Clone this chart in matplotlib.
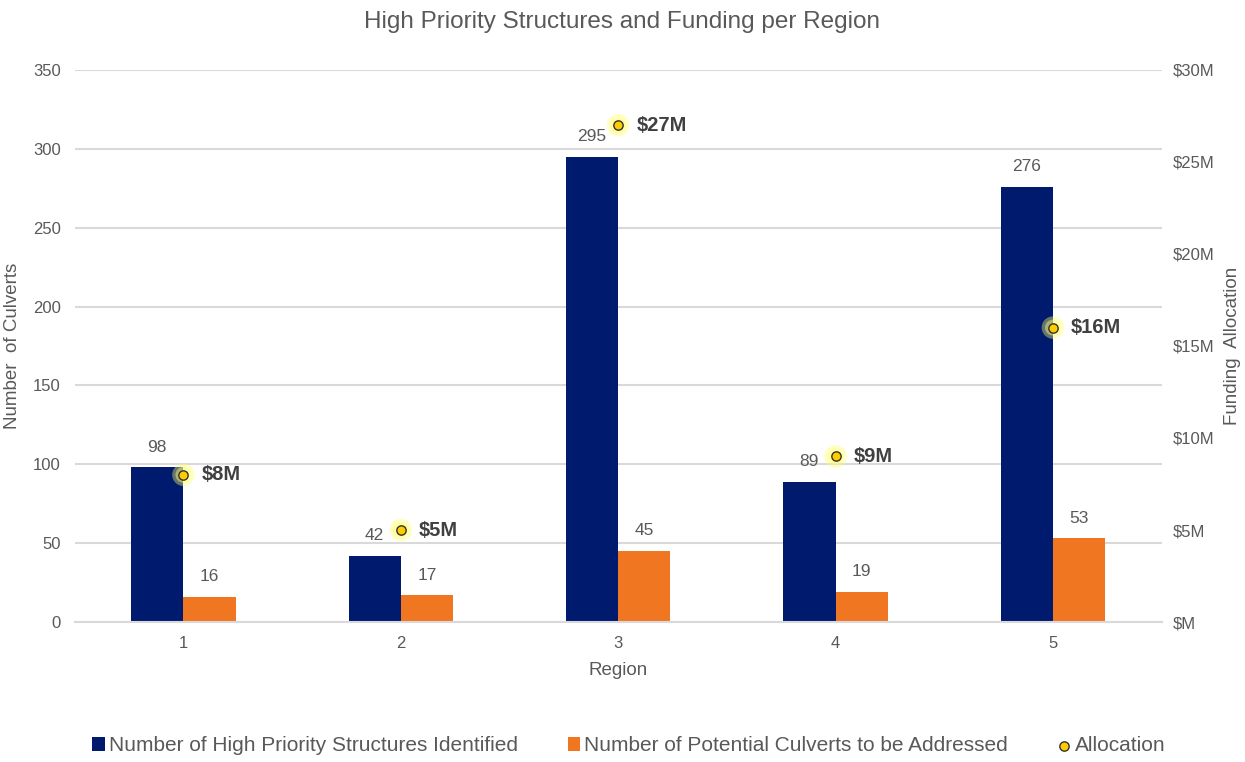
import matplotlib.pyplot as plt
import numpy as np

regions = [1, 2, 3, 4, 5]
high_priority = [98, 42, 295, 89, 276]
culverts = [16, 17, 45, 19, 53]
allocation = [8, 5, 27, 9, 16]  # $M
alloc_labels = ["$8M", "$5M", "$27M", "$9M", "$16M"]

plt.rcParams['font.family'] = ['Liberation Sans', 'DejaVu Sans']

navy = "#001a6e"
orange = "#f07622"
gray = "#595959"

fig = plt.figure(figsize=(12.45, 7.62), dpi=100)
ax = fig.add_axes([0.060, 0.1837, 0.873, 0.7245])
ax2 = ax.twinx()

x = np.array(regions)
w = 0.24
b1 = ax.bar(x - w/2, high_priority, w, color=navy, zorder=2,
            label="Number of High Priority Structures Identified")
b2 = ax.bar(x + w/2, culverts, w, color=orange, zorder=2,
            label="Number of Potential Culverts to be Addressed")

for xi, v in zip(x - w/2, high_priority):
    ax.text(xi, v + 8, str(v), ha='center', va='bottom', fontsize=12.5, color=gray)
for xi, v in zip(x + w/2, culverts):
    ax.text(xi, v + 8, str(v), ha='center', va='bottom', fontsize=12.5, color=gray)

ax.set_ylim(0, 350)
ax.set_yticks(range(0, 351, 50))
ax.set_xlim(0.5, 5.5)
ax.set_xticks(x)
ax.grid(axis='y', color='#d9d9d9', linewidth=1.5, zorder=0)
ax.set_axisbelow(True)
for s in ['top', 'right', 'left']:
    ax.spines[s].set_visible(False)
ax.spines['bottom'].set_color('#d9d9d9')
ax.spines['bottom'].set_linewidth(1.5)
ax.tick_params(axis='both', length=0, labelsize=12, labelcolor=gray)
ax.tick_params(axis='y', pad=10)
ax.tick_params(axis='x', pad=10)
ax.set_xlabel("Region", fontsize=13.5, color=gray, labelpad=8)
ax.set_ylabel("Number  of Culverts", fontsize=13.5, color=gray)
ax.yaxis.set_label_coords(-0.049, 0.5)

ax2.set_ylim(0, 30)
ax2.set_yticks(range(0, 31, 5))
ax2.set_yticklabels(["$M"] + [f"${v}M" for v in range(5, 31, 5)])
ax2.tick_params(axis='y', length=0, labelsize=12, labelcolor=gray, pad=8)
for s in ax2.spines.values():
    s.set_visible(False)
ax2.set_ylabel("Funding  Allocation", fontsize=13.5, color=gray)
ax2.yaxis.set_label_coords(1.057, 0.5)

# glow then marker
ax2.scatter(x, allocation, s=260, color='#ffff66', alpha=0.4, edgecolors='none', zorder=3)
ax2.scatter(x, allocation, s=130, color='#ffff80', alpha=0.45, edgecolors='none', zorder=3)
pts = ax2.scatter(x, allocation, s=45, color='#ffcc00', edgecolors='#333333',
                  linewidths=1, zorder=4, label="Allocation")
for xi, v, lab in zip(x, allocation, alloc_labels):
    ax2.annotate(lab, (xi, v), xytext=(13, 0), textcoords='offset points',
                 ha='left', va='center', fontsize=14.5, fontweight='bold', color='#404040')

fig.suptitle("High Priority Structures and Funding per Region", y=0.985,
             fontsize=17.5, color=gray)

handles = [b1, b2, pts]
leg = fig.legend(handles, [h.get_label() for h in handles], loc='center',
                 bbox_to_anchor=(0.505, 0.021), ncol=3, frameon=False, fontsize=15,
                 handlelength=0.6, handletextpad=0.2, columnspacing=2.4,
                 labelcolor=gray)

fig.savefig("out.png", dpi=100)
